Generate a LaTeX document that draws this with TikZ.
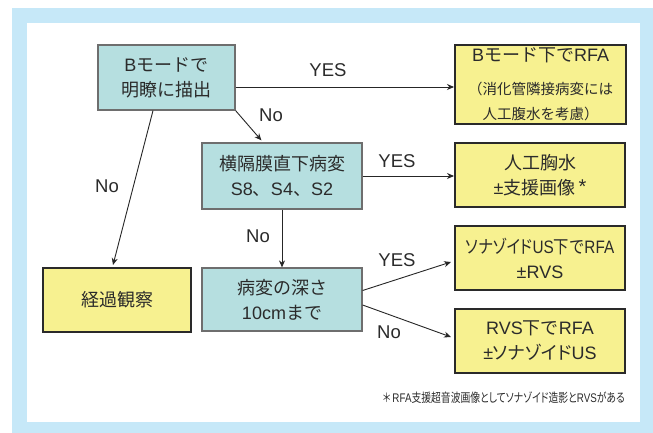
\documentclass[tikz,border=0pt]{standalone}
\usepackage{fontspec}
\usepackage{graphicx}
\setmainfont{Liberation Sans}
\newfontfamily\jp{Noto Sans CJK JP}
\newfontfamily\jpp[RawFeature=+palt]{Noto Sans CJK JP}
\usetikzlibrary{arrows.meta}
\newcommand\J[1]{{\jp #1}}
\newcommand\JP[1]{{\jpp #1}}
\definecolor{framebl}{HTML}{C6E8F8}
\definecolor{tealf}{HTML}{B6DFE0}
\definecolor{tealb}{HTML}{6E6E6E}
\definecolor{yelf}{HTML}{F7F190}
\definecolor{yelb}{HTML}{2A2A2A}
\definecolor{txt}{HTML}{2B2B2B}
\tikzset{
  tbox/.style n args={2}{draw=tealb, line width=1.2pt, fill=tealf, minimum width=#1, minimum height=#2,
    inner sep=0pt, align=center, text=txt, font=\fontsize{18}{25}\selectfont},
  ybox/.style n args={2}{draw=yelb, line width=2pt, fill=yelf, minimum width=#1, minimum height=#2,
    inner sep=0pt, align=center, text=txt, font=\fontsize{18}{25}\selectfont},
  lbl/.style={inner sep=0pt, text=txt, font=\fontsize{18.5}{20}\selectfont},
  arr/.style={-{Stealth[length=7pt,width=6pt]}, line width=0.9pt, draw=black!85},
}
\begin{document}
\begin{tikzpicture}[x=1pt,y=-1pt]
\useasboundingbox (0,0) rectangle (653,433);
\fill[framebl] (12,8) rectangle (653,433);
\fill[white] (27,23) rectangle (640,422);

\node[tbox={137pt}{65pt}] (b1) at (166.5,77.5) {B\J{モードで}\\\J{明瞭に描出}};
\node[ybox={171pt}{79pt}] (y1) at (540.5,84.5)
  {\fontsize{18}{18}\selectfont B\J{モード下で}RFA\\[8pt]{\fontsize{14.5}{18}\selectfont\J{（消化管隣接病変には}}\\{\fontsize{14.5}{18}\selectfont\J{人工腹水を考慮）}}};
\node[tbox={160pt}{66pt}] (b2) at (282,176) {\J{横隔膜直下病変}\\S8\J{、}S4\J{、}S2};
\node[ybox={170pt}{64pt}] (y2) at (540,175) {\J{人工胸水}\\±\J{支援画像}\,\raisebox{1pt}{\fontsize{20}{20}\selectfont *}};
\node[tbox={160pt}{63pt}] (b3) at (282,299.5) {\J{病変の深さ}\\10cm\J{まで}};
\node[ybox={148pt}{64pt}] (y3) at (117,300) {\J{経過観察}};
\node[ybox={170pt}{64pt}] (y4) at (540,258) {\scalebox{0.85}[1]{\JP{ソナゾイド}US\J{下で}RFA}\\±RVS};
\node[ybox={170pt}{64pt}] (y5) at (540,341) {RVS\J{下で}RFA\\±\JP{ソナゾイド}US};

\coordinate (p1) at ([yshift=-9.5pt]b1.east);
\draw[arr] (p1) -- (p1 -| y1.west);
\draw[arr] (b1.south east) -- ([xshift=60pt,yshift=2pt]b2.north west);
\draw[arr] ([xshift=-13.5pt]b1.south) -- ([xshift=-4pt,yshift=2pt]y3.north);
\draw[arr] (b2.east) -- (b2.east -| y2.west);
\draw[arr] (b2.south) -- (b3.north);
\draw[arr] ([yshift=9pt]b3.east) -- ([xshift=-3pt,yshift=-4pt]y4.west);
\draw[arr] ([yshift=-5.5pt]b3.east) -- ([xshift=-3pt,yshift=4pt]y5.west);

\node[lbl] (l1) at (328,70) {YES};
\node[lbl] (l2) at (271,115) {No};
\node[lbl] (l3) at (107,186) {No};
\node[lbl] (l4) at (397,161) {YES};
\node[lbl] (l5) at (258,236) {No};
\node[lbl] (l6) at (397,260) {YES};
\node[lbl] (l7) at (389,332) {No};

\node[anchor=east, inner sep=0pt, text=txt, font=\fontsize{12.5}{13}\selectfont] (fn) at (625,398)
  {\resizebox{242pt}{\height}{\JP{＊}\,RFA\JP{支援超音波画像としてソナゾイド造影と}RVS\JP{がある}}};
\end{tikzpicture}
\end{document}
